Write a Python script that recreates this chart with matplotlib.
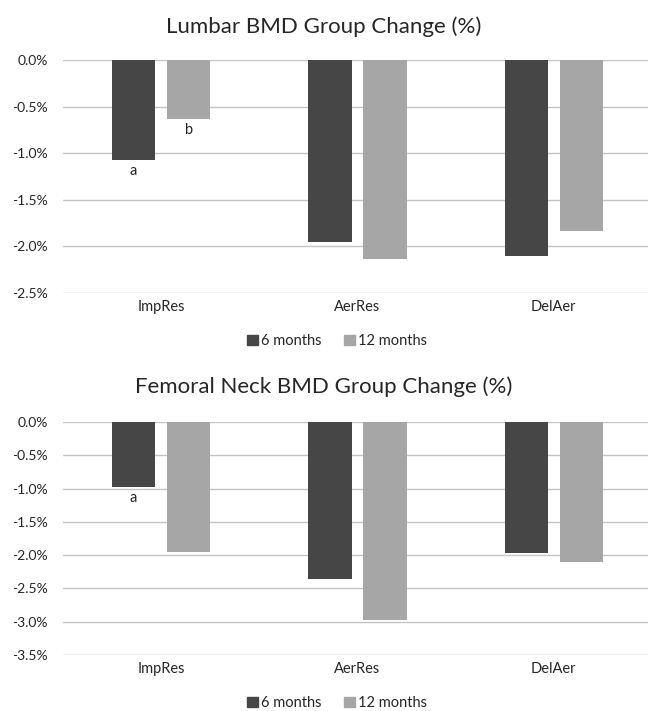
import numpy as np
import matplotlib
matplotlib.use("Agg")
import matplotlib.pyplot as plt
from matplotlib.patches import Patch

plt.rcParams['font.family'] = ['Lato', 'DejaVu Sans']

groups = ["ImpRes", "AerRes", "DelAer"]
series = ["6 months", "12 months"]

lumbar_6m = [-1.07, -1.95, -2.10]
lumbar_12m = [-0.63, -2.13, -1.84]
femoral_6m = [-0.97, -2.36, -1.97]
femoral_12m = [-1.95, -2.98, -2.11]

lumbar_ticks = [0.0, -0.5, -1.0, -1.5, -2.0, -2.5]
femoral_ticks = [0.0, -0.5, -1.0, -1.5, -2.0, -2.5, -3.0, -3.5]

# significance letters: (group index, series index, letter)
lumbar_marks = [(0, 0, "a"), (0, 1, "b")]
femoral_marks = [(0, 0, "a")]

dark = "#464646"
light = "#a6a6a6"
grid_c = "#c4c4c4"
txt = "#262626"

W, H = 648, 711
fig = plt.figure(figsize=(W / 100, H / 100), dpi=100)


def draw_panel(rect, v6, v12, ticks, marks, title, title_y, legend_y):
    ax = fig.add_axes(rect)
    x = np.arange(len(groups))
    off, bw = 0.14, 0.22
    b6 = ax.bar(x - off, v6, bw, color=dark, zorder=3)
    b12 = ax.bar(x + off, v12, bw, color=light, zorder=3)
    ax.set_xlim(-0.5, len(groups) - 0.5)
    ax.set_ylim(min(ticks), 0)
    ax.set_yticks(ticks)
    ax.set_yticklabels(["%.1f%%" % t for t in ticks])
    ax.set_xticks(x)
    ax.set_xticklabels(groups)
    for s in ax.spines.values():
        s.set_visible(False)
    ax.yaxis.grid(True, color=grid_c, linewidth=1.0, zorder=0)
    ax.tick_params(axis='y', length=0, pad=11, labelsize=10, labelcolor=txt)
    ax.tick_params(axis='x', length=0, pad=5, labelsize=10.5, labelcolor=txt)
    ax.set_axisbelow(True)
    bars = [b6, b12]
    for gi, si, letter in marks:
        r = bars[si][gi]
        ax.annotate(letter, (r.get_x() + r.get_width() / 2, r.get_height()),
                    xytext=(0, -3), textcoords="offset points",
                    ha="center", va="top", fontsize=10.5, color=txt)
    fig.text(0.5, 1 - title_y / H, title, ha="center", va="center",
             fontsize=16, color=txt)
    handles = [Patch(color=dark, label=series[0]), Patch(color=light, label=series[1])]
    fig.legend(handles=handles, loc="center", bbox_to_anchor=(337 / W, 1 - legend_y / H),
               ncol=2, frameon=False, fontsize=10.5, handlelength=0.75, handleheight=0.75,
               handletextpad=0.15, columnspacing=1.6, labelcolor=txt)
    return ax


left = 63 / W
width = (652 - 63) / W
draw_panel([left, 1 - 293 / H, width, (293 - 60) / H], lumbar_6m, lumbar_12m,
           lumbar_ticks, lumbar_marks, "Lumbar BMD Group Change (%)", 27, 341)
draw_panel([left, 1 - 655 / H, width, (655 - 422) / H], femoral_6m, femoral_12m,
           femoral_ticks, femoral_marks, "Femoral Neck BMD Group Change (%)", 387, 703)

fig.savefig("out.png", dpi=100)
